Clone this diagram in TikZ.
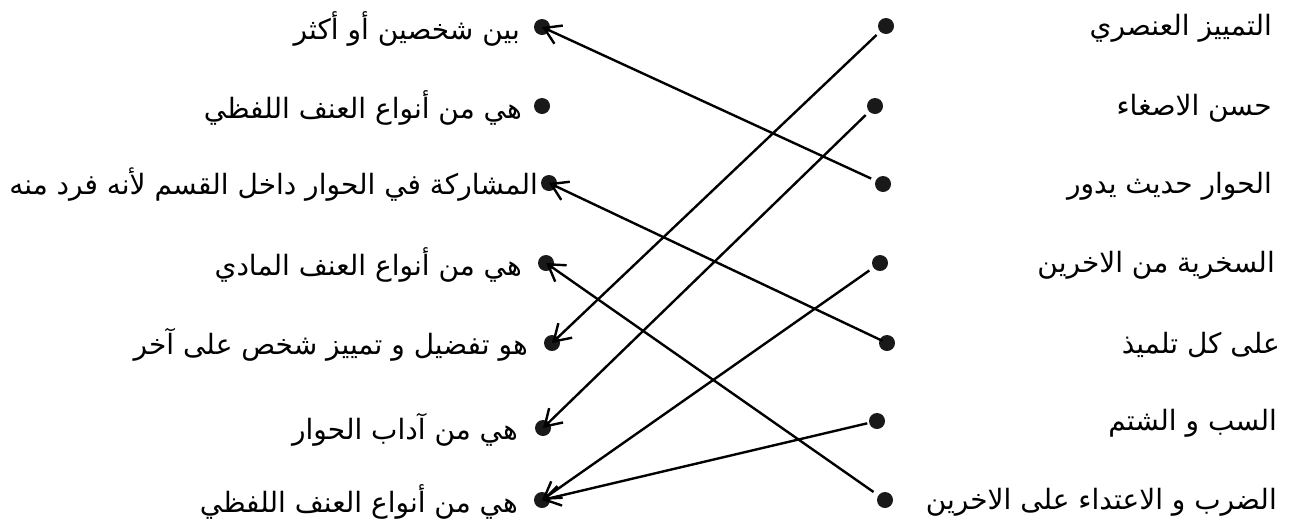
\documentclass[tikz,border=0pt]{standalone}
\usepackage{fontspec}
\usepackage{tikz}
\usetikzlibrary{arrows.meta, positioning}
\TeXXeTstate=1
\newfontfamily\arabicfont[Script=Arabic]{DejaVu Sans}
\newcommand{\ar}[1]{\arabicfont\beginR #1\endR}

\begin{document}
\begin{tikzpicture}[
    x=1pt, y=-1pt,
    dot/.style = {circle, fill=black!90, inner sep=0pt, minimum size=16pt},
    ltext/.style = {anchor=east, inner sep=0pt, yshift=-2pt, font=\fontsize{28}{32}\selectfont},
    rtext/.style = {anchor=east, inner sep=0pt, yshift=-2pt, font=\fontsize{28}{32}\selectfont},
    link/.style = {draw=black, line width=2.4pt, shorten <=13pt, -{Straight Barb[length=16pt, width=20pt, line width=2.4pt]}}
]
\path[use as bounding box] (0,0) rectangle (1311,523);

% Left column bullets
\node (ldot1) [dot, at={(542, 27)}] {};
\node (ldot2) [dot, at={(542,106)}] {};
\node (ldot3) [dot, at={(549,183)}] {};
\node (ldot4) [dot, at={(546,263)}] {};
\node (ldot5) [dot, at={(552,343)}] {};
\node (ldot6) [dot, at={(543,428)}] {};
\node (ldot7) [dot, at={(542,500)}] {};

% Left column texts
\node (lans1) [ltext, at={(520, 27)}] {\ar{بين شخصين أو أكثر}};
\node (lans2) [ltext, at={(522,106)}] {\ar{هي من أنواع العنف اللفظي}};
\node (lans3) [ltext, at={(538,183)}] {\ar{المشاركة في الحوار داخل القسم لأنه فرد منه}};
\node (lans4) [ltext, at={(522,263)}] {\ar{هي من أنواع العنف المادي}};
\node (lans5) [ltext, at={(528,343)}] {\ar{هو تفضيل و تمييز شخص على آخر}};
\node (lans6) [ltext, at={(518,428)}] {\ar{هي من آداب الحوار}};
\node (lans7) [ltext, at={(518,500)}] {\ar{هي من أنواع العنف اللفظي}};

% Right column bullets
\node (rdot1) [dot, at={(886, 26)}] {};
\node (rdot2) [dot, at={(875,106)}] {};
\node (rdot3) [dot, at={(883,184)}] {};
\node (rdot4) [dot, at={(880,263)}] {};
\node (rdot5) [dot, at={(887,343)}] {};
\node (rdot6) [dot, at={(877,421)}] {};
\node (rdot7) [dot, at={(885,500)}] {};

% Right column texts
\node (rterm1) [rtext, at={(1272, 26)}] {\ar{التمييز العنصري}};
\node (rterm2) [rtext, at={(1272,106)}] {\ar{حسن الاصغاء}};
\node (rterm3) [rtext, at={(1272,184)}] {\ar{الحوار حديث يدور}};
\node (rterm4) [rtext, at={(1275,263)}] {\ar{السخرية من الاخرين}};
\node (rterm5) [rtext, at={(1280,343)}] {\ar{على كل تلميذ}};
\node (rterm6) [rtext, at={(1277,421)}] {\ar{السب و الشتم}};
\node (rterm7) [rtext, at={(1277,500)}] {\ar{الضرب و الاعتداء على الاخرين}};

% Matching arrows
\draw [link] (rdot1.center) -- (ldot5.center);
\draw [link] (rdot2.center) -- (ldot6.center);
\draw [link] (rdot3.center) -- (ldot1.center);
\draw [link] (rdot4.center) -- (ldot7.center);
\draw [link, shorten <=5pt] (rdot5.center) -- (ldot3.center);
\draw [link, shorten <=10pt] (rdot6.center) -- (ldot7.center);
\draw [link, shorten <=14pt] (rdot7.center) -- (ldot4.center);

\end{tikzpicture}
\end{document}
